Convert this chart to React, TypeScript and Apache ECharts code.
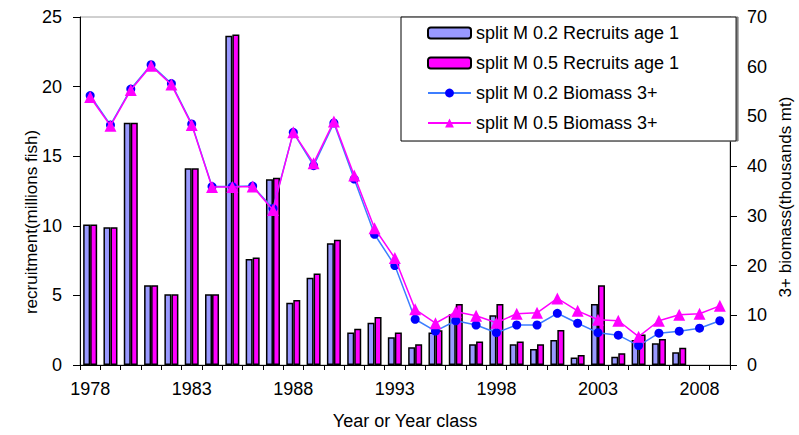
import React, { useEffect, useRef } from "react";
import * as echarts from "echarts";

const years = [
  "1978","1979","1980","1981","1982","1983","1984","1985","1986","1987",
  "1988","1989","1990","1991","1992","1993","1994","1995","1996","1997",
  "1998","1999","2000","2001","2002","2003","2004","2005","2006","2007",
  "2008","2009",
];

const recruitsM02 = [
  10.1, 9.9, 17.4, 5.73, 5.08, 14.14, 5.08, 23.66, 7.62, 13.35,
  4.48, 6.26, 8.75, 2.33, 3.04, 1.99, 1.27, 2.33, 3.64, 1.49,
  3.57, 1.49, 1.15, 1.8, 0.53, 4.39, 0.6, 1.8, 1.56, 0.91,
  null, null,
];

const recruitsM05 = [
  10.1, 9.9, 17.4, 5.73, 5.08, 14.14, 5.08, 23.75, 7.72, 13.45,
  4.67, 6.57, 8.99, 2.61, 3.45, 2.33, 1.49, 2.5, 4.39, 1.68,
  4.39, 1.68, 1.49, 2.52, 0.72, 5.73, 0.84, 2.2, 1.87, 1.24,
  null, null,
];

const biomassM02 = [
  54.2, 48.3, 55.5, 60.4, 56.6, 48.5, 35.9, 35.9, 36.0, 31.5,
  46.8, 40.1, 48.7, 37.4, 26.3, 20.0, 9.2, 6.8, 8.9, 8.05,
  6.5, 8.05, 8.05, 10.4, 8.4, 6.5, 6.0, 3.9, 6.4, 6.8,
  7.4, 8.9,
];

const biomassM05 = [
  53.9, 48.1, 55.3, 60.2, 56.4, 48.3, 35.8, 35.8, 35.9, 31.2,
  46.8, 40.6, 49.0, 38.1, 27.5, 21.5, 11.2, 8.4, 10.7, 9.9,
  8.5, 10.3, 10.5, 13.4, 10.9, 9.1, 8.9, 5.7, 8.9, 10.1,
  10.3, 11.9,
];

const seriesNames = [
  "split M 0.2 Recruits age 1",
  "split M 0.5 Recruits age 1",
  "split M 0.2 Biomass 3+",
  "split M 0.5 Biomass 3+",
];

const FONT = "Arial, 'Liberation Sans', sans-serif";

export default function App() {
  const ref = useRef<HTMLDivElement>(null);

  useEffect(() => {
    if (!ref.current) return;
    const chart = echarts.init(ref.current, undefined, { renderer: "svg" });
    const axisText = { color: "#000", fontSize: 18, fontFamily: FONT };
    chart.setOption({
      animation: false,
      backgroundColor: "#fff",
      grid: {
        left: 80,
        right: 69,
        top: 17,
        bottom: 70,
        show: true,
        borderColor: "#a0a0a0",
        borderWidth: 1,
        backgroundColor: "transparent",
      },
      legend: {
        orient: "vertical",
        left: 401,
        top: 17,
        padding: [7, 57, 9, 26],
        itemGap: 12,
        itemWidth: 43,
        itemHeight: 11,
        backgroundColor: "#fff",
        borderColor: "#000",
        borderWidth: 1,
        shadowColor: "#808080",
        shadowOffsetX: 2,
        shadowOffsetY: 0,
        shadowBlur: 0,
        textStyle: { color: "#000", fontSize: 18, fontFamily: FONT },
        data: seriesNames,
      },
      xAxis: {
        type: "category",
        data: years,
        boundaryGap: true,
        axisLine: { lineStyle: { color: "#000", width: 1 } },
        axisTick: { show: true, interval: 0, length: 5, lineStyle: { color: "#000" } },
        axisLabel: { ...axisText, interval: 4, margin: 15 },
        splitLine: { show: false },
      },
      yAxis: [
        {
          type: "value",
          min: 0,
          max: 25,
          interval: 5,
          axisLine: { show: true, lineStyle: { color: "#000", width: 1 } },
          axisTick: { show: true, length: 7, lineStyle: { color: "#000" } },
          axisLabel: { ...axisText, margin: 18 },
          splitLine: { show: false },
        },
        {
          type: "value",
          min: 0,
          max: 70,
          interval: 10,
          position: "right",
          axisLine: { show: true, lineStyle: { color: "#000", width: 1 } },
          axisTick: { show: true, length: 7, lineStyle: { color: "#000" } },
          axisLabel: { ...axisText, margin: 17 },
          splitLine: { show: false },
        },
      ],
      series: [
        {
          name: seriesNames[0],
          type: "bar",
          yAxisIndex: 0,
          data: recruitsM02,
          barGap: "0%",
          barCategoryGap: "31%",
          itemStyle: { color: "#9999FF", borderColor: "#000", borderWidth: 1.5 },
        },
        {
          name: seriesNames[1],
          type: "bar",
          yAxisIndex: 0,
          data: recruitsM05,
          barGap: "0%",
          barCategoryGap: "31%",
          itemStyle: { color: "#FF00FF", borderColor: "#000", borderWidth: 1.5 },
        },
        {
          name: seriesNames[2],
          type: "line",
          yAxisIndex: 1,
          data: biomassM02,
          symbol: "circle",
          symbolSize: 9,
          lineStyle: { color: "#3D7EFF", width: 1.5 },
          itemStyle: { color: "#0000FF" },
          z: 3,
        },
        {
          name: seriesNames[3],
          type: "line",
          yAxisIndex: 1,
          data: biomassM05,
          symbol: "triangle",
          symbolSize: 12,
          lineStyle: { color: "#FF00FF", width: 1.5 },
          itemStyle: { color: "#FF00FF" },
          z: 4,
        },
      ],
      graphic: [
        {
          type: "text",
          x: 31,
          y: 222,
          rotation: Math.PI / 2,
          style: {
            text: "recruitment(millions fish)",
            fontSize: 17,
            fontFamily: FONT,
            fill: "#000",
            align: "center",
            verticalAlign: "middle",
          },
        },
        {
          type: "text",
          x: 785,
          y: 197,
          rotation: Math.PI / 2,
          style: {
            text: "3+ biomass(thousands mt)",
            fontSize: 17,
            fontFamily: FONT,
            fill: "#000",
            align: "center",
            verticalAlign: "middle",
          },
        },
        {
          type: "text",
          x: 405,
          y: 421,
          style: {
            text: "Year or Year class",
            fontSize: 18,
            fontFamily: FONT,
            fill: "#000",
            align: "center",
            verticalAlign: "middle",
          },
        },
      ],
    });
    return () => chart.dispose();
  }, []);

  return (
    <div
      ref={ref}
      style={{ position: "fixed", left: 0, top: 0, width: 799, height: 435 }}
    />
  );
}
